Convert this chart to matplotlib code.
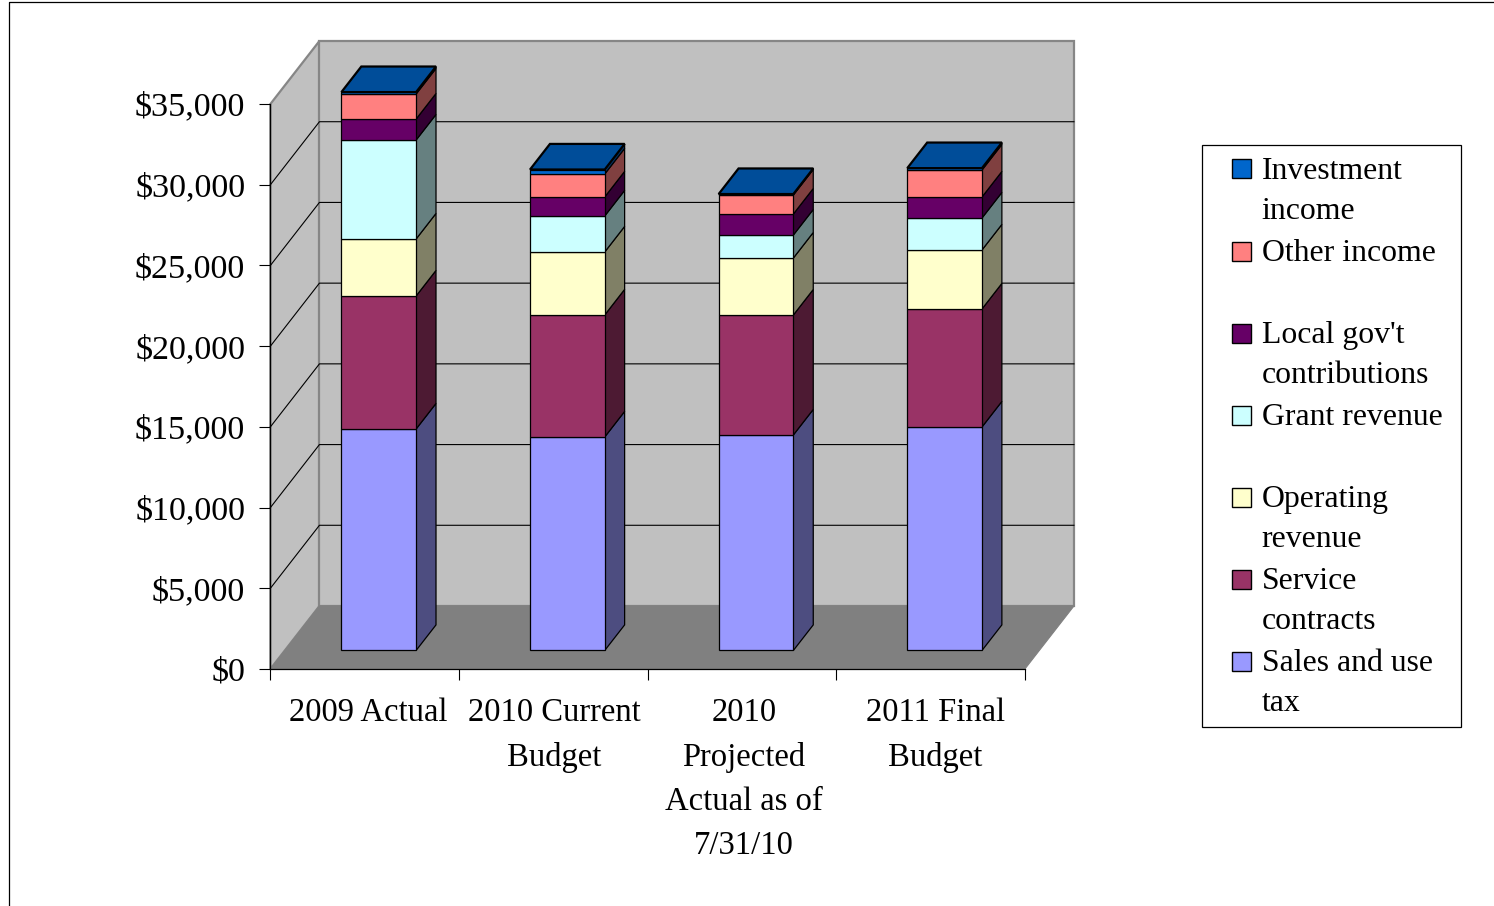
import matplotlib
matplotlib.use("Agg")
import matplotlib.pyplot as plt
from matplotlib.patches import Polygon, Rectangle
from matplotlib.transforms import ScaledTranslation
from matplotlib.colors import to_rgb
import numpy as np

categories = ["2009 Actual", "2010 Current\nBudget", "2010\nProjected\nActual as of\n7/31/10", "2011 Final\nBudget"]
series_names = ["Sales and use\ntax", "Service\ncontracts", "Operating\nrevenue", "Grant revenue",
                "Local gov't\ncontributions", "Other income", "Investment\nincome"]
sales = [13720, 13225, 13350, 13845]
service = [8240, 7560, 7430, 7310]
operating = [3530, 3900, 3530, 3655]
grant = [6130, 2230, 1425, 1980]
local_gov = [1300, 1180, 1300, 1300]
other = [1550, 1420, 1180, 1670]
investment = [120, 280, 60, 120]
series = [sales, service, operating, grant, local_gov, other, investment]
colors = ["#9999FF", "#993366", "#FFFFCC", "#CCFFFF", "#660066", "#FF8080", "#0066CC"]
y_ticks = [0, 5000, 10000, 15000, 20000, 25000, 30000, 35000]

W, H = 1494, 906
plt.rcParams["font.family"] = ["Liberation Serif", "DejaVu Serif"]
fig = plt.figure(figsize=(W / 100, H / 100), dpi=100)
ax = fig.add_axes([270.4 / W, 1 - 669 / H, 754.5 / W, 565 / H])
ax.set_xlim(0, 4)
ax.set_ylim(0, 35000)
ax.patch.set_visible(False)

DX = 49 / 188.5   # full floor depth in category units
DY = 63 / (565 / 35000)  # full floor depth in value units
BAR_X0, BAR_W = 0.300, 0.396
D0, D1 = 0.294, 0.70
WALL_EDGE = "#868686"

def poly(pts, fc, ec, lw, z):
    ax.add_patch(Polygon(pts, closed=True, facecolor=fc, edgecolor=ec, linewidth=lw,
                         zorder=z, clip_on=False, joinstyle="miter"))

ymax = y_ticks[-1]
poly([(0, 0), (DX, DY), (DX, ymax + DY), (0, ymax)], "#C0C0C0", WALL_EDGE, 1.6, 0.5)
poly([(DX, DY), (4 + DX, DY), (4 + DX, ymax + DY), (DX, ymax + DY)], "#C0C0C0", WALL_EDGE, 1.6, 0.5)
poly([(0, 0), (DX, DY), (4 + DX, DY), (4, 0)], "#808080", "#808080", 0.8, 0.6)

for v in y_ticks[1:-1]:
    ax.plot([0, DX, 4 + DX], [v, v + DY, v + DY], color="black", lw=0.8, zorder=0.8, clip_on=False)

z = 3
for i in range(len(categories)):
    x0 = i + BAR_X0 + D0 * DX
    x1 = x0 + BAR_W
    ddx = (D1 - D0) * DX
    ddy = (D1 - D0) * DY
    base = D0 * DY
    for vals, c in zip(series, colors):
        top = base + vals[i]
        rgb = np.array(to_rgb(c))
        poly([(x1, base), (x1 + ddx, base + ddy), (x1 + ddx, top + ddy), (x1, top)],
             tuple(rgb * 0.5), "black", 0.9, z)
        poly([(x0, base), (x1, base), (x1, top), (x0, top)], c, "black", 0.9, z + 0.1)
        base = top
        z += 0.2
    rgb = np.array(to_rgb(colors[-1]))
    poly([(x0, base), (x1, base), (x1 + ddx, base + ddy), (x0 + ddx, base + ddy)],
         tuple(rgb * 0.75), "black", 1.6, z)
    z += 0.2

for s in ("top", "right"):
    ax.spines[s].set_visible(False)
for s in ("left", "bottom"):
    ax.spines[s].set_linewidth(0.9)

ax.set_yticks(y_ticks)
ax.set_yticklabels([f"${v:,}" for v in y_ticks])
ax.tick_params(axis="y", length=7.9, width=0.8, pad=10.2, labelsize=24.6)
ax.set_xticks(range(5))
ax.set_xticklabels([])
ax.tick_params(axis="x", which="major", length=7.9, width=0.8)
ax.set_xticks([i + 0.5 for i in range(4)], categories, minor=True)
ax.tick_params(axis="x", which="minor", length=0, pad=20.5, labelsize=23.5)
offsets = [4, 1, 2, 5]
for lab, off in zip(ax.get_xticklabels(minor=True), offsets):
    lab.set_linespacing(1.58)
    lab.set_transform(lab.get_transform() + ScaledTranslation(off / 100, 0, fig.dpi_scale_trans))

# chart-area border
def fx(p): return p / W
def fy(p): return 1 - p / H
fig.add_artist(plt.Line2D([fx(8.6), fx(8.6), 1], [0, fy(2), fy(2)], color="black", lw=0.9))

# legend, top entry first
fig.add_artist(Rectangle((fx(1202), fy(726.6)), 258.5 / W, 582 / H, facecolor="white", edgecolor="black",
                         linewidth=0.9, transform=fig.transFigure))
for k, (name, c) in enumerate(zip(series_names[::-1], colors[::-1])):
    yc = 168 + 82 * k + (1 if k else 0)
    fig.add_artist(Rectangle((fx(1231.6), fy(yc + 9.5)), 19 / W, 19 / H, facecolor=c, edgecolor="black",
                             linewidth=1.0, transform=fig.transFigure))
    for j, line in enumerate(name.split("\n")):
        fig.text(fx(1261.6), fy(179 + 82 * k + 40 * j), line, fontsize=22.9, ha="left", va="baseline", color="black")

fig.savefig("out.png", dpi=100)
